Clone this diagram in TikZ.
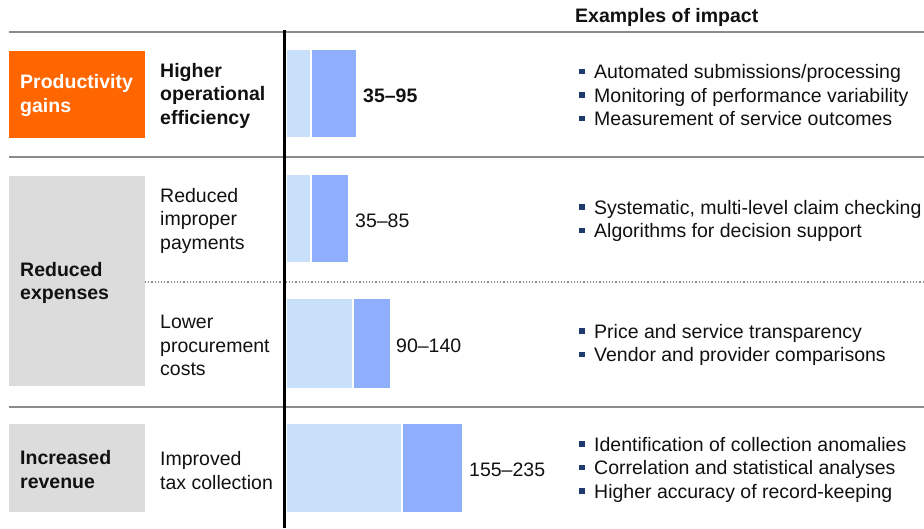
\documentclass[tikz,border=0pt]{standalone}
\usepackage{fontspec}
\setmainfont{Liberation Sans}
\usetikzlibrary{positioning}
\definecolor{orangeA}{HTML}{FF6600}
\definecolor{grayA}{HTML}{DCDCDC}
\definecolor{lightbar}{HTML}{C8E0FA}
\definecolor{darkbar}{HTML}{90AEFE}
\definecolor{rulegray}{HTML}{8C8C8C}
\definecolor{bulc}{HTML}{1F3A6E}
\definecolor{txt}{HTML}{111111}
\newcommand\bul{\makebox[17pt][l]{\hspace{2pt}\raisebox{4.5pt}{\textcolor{bulc}{\rule{5.5pt}{5.5pt}}}}}
\tikzset{
  fnt/.style={font=\fontsize{19.5}{23.5}\selectfont},
  lbl/.style={fnt, anchor=west, align=left, inner sep=0pt, text=txt},
  blbl/.style={lbl, font=\fontsize{19.5}{23.5}\selectfont\bfseries},
  hline/.style={draw=rulegray, line width=2pt},
  lbar/.style={fill=lightbar, draw=none},
  dbar/.style={fill=darkbar, draw=none},
}
\begin{document}
\begin{tikzpicture}[x=1pt,y=-1pt]
\useasboundingbox (0,0) rectangle (924,528);
% horizontal rules
\draw[hline] (9,32) -- (924,32);
\draw[hline] (9,157) -- (924,157);
\draw[hline] (9,407) -- (924,407);
\draw[rulegray, line width=1.2pt, dotted] (145,282) -- (924,282);
% category boxes
\fill[orangeA] (9,51) rectangle (145,138);
\fill[grayA] (9,176) rectangle (145,386);
\fill[grayA] (9,424) rectangle (145,512);
% bars
\fill[lbar] (287,50) rectangle (310,137);
\fill[dbar] (312,50) rectangle (356,137);
\fill[lbar] (287,175) rectangle (310,262);
\fill[dbar] (312,175) rectangle (348,262);
\fill[lbar] (287,299) rectangle (352,388);
\fill[dbar] (354,299) rectangle (390,388);
\fill[lbar] (287,424) rectangle (401,512);
\fill[dbar] (403,424) rectangle (462,512);
% vertical axis
\draw[black, line width=2.6pt] (284.5,30) -- (284.5,528);
% title
\node[anchor=west, inner sep=0pt, font=\fontsize{19.5}{22}\selectfont\bfseries, text=txt] (title) at (575,17) {Examples of impact};
% category labels
\node[blbl, text=white] (c1) at (20,95.5) {Productivity\\gains};
\node[blbl] (c2) at (20,283) {Reduced\\expenses};
\node[blbl] (c3) at (20,469.5) {Increased\\revenue};
% sub labels
\node[blbl] (s1) at (160,95.5) {Higher\\operational\\efficiency};
\node[lbl] (s2) at (160,220.5) {Reduced\\improper\\payments};
\node[lbl] (s3) at (160,345.5) {Lower\\procurement\\costs};
\node[lbl] (s4) at (160,470.5) {Improved\\tax collection};
% values
\node[blbl] (v1) at (363,95.5) {35--95};
\node[lbl] (v2) at (355,220.5) {35--85};
\node[lbl] (v3) at (396,345.5) {90--140};
\node[lbl] (v4) at (469,469.5) {155--235};
% examples
\node[lbl] (e1) at (577,95.5) {\bul Automated submissions/processing\\\bul Monitoring of performance variability\\\bul Measurement of service outcomes};
\node[lbl] (e2) at (577,221) {\bul Systematic, multi-level claim checking\\\bul Algorithms for decision support};
\node[lbl] (e3) at (577,345) {\bul Price and service transparency\\\bul Vendor and provider comparisons};
\node[lbl] (e4) at (577,469.5) {\bul Identification of collection anomalies\\\bul Correlation and statistical analyses\\\bul Higher accuracy of record-keeping};
\end{tikzpicture}
\end{document}
